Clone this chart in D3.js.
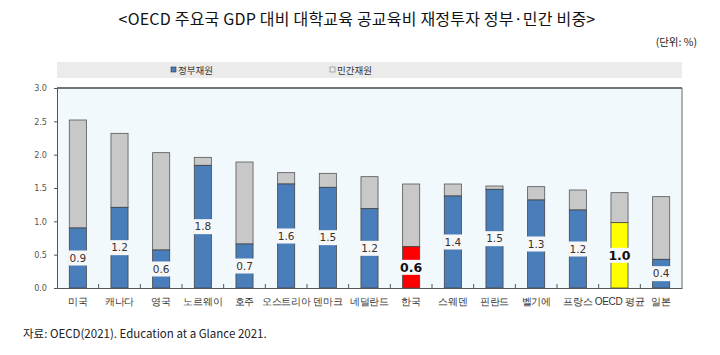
<!DOCTYPE html>
<html><head><meta charset="utf-8">
<script src="https://cdn.jsdelivr.net/npm/d3@7"></script>
<style>
body{margin:0;background:#fff;}
svg{display:block;font-family:"Noto Sans CJK KR","Noto Sans",sans-serif;}
</style></head>
<body>
<svg id="c" width="720" height="355"></svg>
<script>
const categories = ["미국","캐나다","영국","노르웨이","호주","오스트리아","덴마크","네덜란드","한국","스웨덴","핀란드","벨기에","프랑스","OECD 평균","일본"];
const govt    = [0.90,1.21,0.57,1.84,0.66,1.56,1.51,1.19,0.62,1.38,1.48,1.32,1.17,0.98,0.43];
const total   = [2.52,2.32,2.03,1.96,1.89,1.73,1.72,1.67,1.56,1.56,1.53,1.52,1.47,1.43,1.37];
const yTicks  = [0,0.5,1.0,1.5,2.0,2.5,3.0];
const legendLabels = ["정부재원","민간재원"];

const svg = d3.select("#c");
const m = {l:57, r:682, t:88, b:288};
const x = d3.scaleBand().domain(categories).range([m.l,m.r]).paddingInner(0.59).paddingOuter(0.295);
const y = d3.scaleLinear().domain([0,3]).range([m.b,m.t]);

// title
svg.append("text").attr("x",357).attr("y",25).attr("text-anchor","middle")
  .attr("font-size",16).attr("letter-spacing",0.2).attr("fill","#111").text("<OECD 주요국 GDP 대비 대학교육 공교육비 재정투자 정부·민간 비중>");
svg.append("text").attr("x",697).attr("y",46).attr("text-anchor","end")
  .attr("font-size",10.5).attr("fill","#222").text("(단위: %)");

// legend band
svg.append("rect").attr("x",m.l).attr("y",62).attr("width",m.r-m.l).attr("height",16).attr("fill","#ebebeb");
const lg = [{c:"#4a7ebb",s:"#333",x:171,t:legendLabels[0]},{c:"#eeeeee",s:"#777",x:330,t:legendLabels[1]}];
lg.forEach(d=>{
  svg.append("rect").attr("x",d.x).attr("y",67).attr("width",5).attr("height",5).attr("fill",d.c).attr("stroke",d.s).attr("stroke-width",0.6);
  svg.append("text").attr("x",d.x+7).attr("y",73.5).attr("font-size",9.5).attr("fill","#333").text(d.t);
});

// plot bg
svg.append("rect").attr("x",m.l).attr("y",m.t).attr("width",m.r-m.l).attr("height",m.b-m.t).attr("fill","#f2f9fd");

// y axis
const ya = svg.append("g").attr("transform",`translate(${m.l},0)`)
  .call(d3.axisLeft(y).tickValues(yTicks).tickFormat(d3.format(".1f")).tickSize(0).tickPadding(10));
ya.select(".domain").attr("stroke","#555");
ya.selectAll("text").attr("font-size",9).attr("fill","#555").attr("font-family","'Liberation Sans Narrow','DejaVu Sans Condensed',sans-serif");
ya.selectAll(".tick").append("line").attr("x1",0).attr("x2",-3).attr("stroke","#555");

// bars
const colorGov = (c)=> c==="한국" ? "#ff0000" : (c==="OECD 평균" ? "#ffff00" : "#4a7ebb");
const g = svg.append("g");
categories.forEach((c,i)=>{
  g.append("rect").attr("x",x(c)).attr("width",x.bandwidth()).attr("y",y(total[i])).attr("height",y(govt[i])-y(total[i]))
    .attr("fill","#c8c8c8").attr("stroke","#555").attr("stroke-width",0.8);
  g.append("rect").attr("x",x(c)).attr("width",x.bandwidth()).attr("y",y(govt[i])).attr("height",y(0)-y(govt[i]))
    .attr("fill",colorGov(c)).attr("stroke","#444").attr("stroke-width",0.8);
});
// labels
categories.forEach((c,i)=>{
  const special = (c==="한국"||c==="OECD 평균");
  const cy = (y(0)+y(govt[i]))/2;
  const bw = x.bandwidth();
  const lw = special? bw+4 : bw+2;
  g.append("rect").attr("x",x(c)+bw/2-lw/2).attr("y",cy-7.5).attr("width",lw).attr("height",15).attr("fill",special?"#f6fafd":"#f7f7f7");
  g.append("text").attr("x",x(c)+bw/2).attr("y",cy+ (special?4.5:3.8)).attr("text-anchor","middle")
    .attr("font-size",special?12.5:10.5).attr("font-weight",special?"bold":"normal")
    .attr("font-family","'DejaVu Sans',sans-serif")
    .attr("fill",special?"#111":"#333").text(govt[i].toFixed(1));
});

// x axis
const xa = svg.append("g").attr("transform",`translate(0,${m.b})`)
  .call(d3.axisBottom(x).tickSize(0).tickPadding(10));
xa.select(".domain").attr("stroke","#555");
xa.selectAll("text").attr("font-size",10).attr("letter-spacing",-0.3).attr("fill","#333");
d3.range(1,categories.length).forEach(k=>{
  const xx = m.l + k*(m.r-m.l)/categories.length;
  svg.append("line").attr("x1",xx).attr("x2",xx).attr("y1",m.b).attr("y2",m.b-4).attr("stroke","#555");
});

// borders
svg.append("line").attr("x1",m.l).attr("x2",m.r).attr("y1",m.t).attr("y2",m.t).attr("stroke","#444").attr("stroke-width",1.5);
svg.append("line").attr("x1",m.r).attr("x2",m.r).attr("y1",m.t).attr("y2",m.b).attr("stroke","#666").attr("stroke-width",1);

// source
svg.append("text").attr("x",23).attr("y",338).attr("font-size",11.5).attr("fill","#222")
  .text("자료: OECD(2021). Education at a Glance 2021.");
</script>
</body></html>
